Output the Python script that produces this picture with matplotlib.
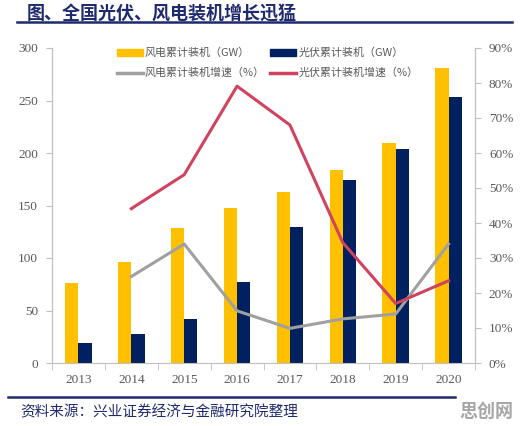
import matplotlib
matplotlib.use("Agg")
import matplotlib.pyplot as plt
import numpy as np
from matplotlib.lines import Line2D
from matplotlib.patches import Patch

plt.rcParams['font.family'] = ['Noto Sans CJK SC', 'DejaVu Sans']

years = ['2013', '2014', '2015', '2016', '2017', '2018', '2019', '2020']
wind_cap = [76, 96, 129, 148, 163, 184, 210, 281]
solar_cap = [19.4, 28, 42, 77, 130, 174, 204, 253]
wind_growth = [None, 24.7, 34.0, 14.9, 9.9, 12.6, 14.0, 34.0]
solar_growth = [None, 44.1, 53.8, 79.1, 68.0, 34.4, 17.0, 23.5]

C_WIND = '#FFC000'
C_SOLAR = '#002060'
C_WG = '#A0A0A0'
C_SG = '#D0435E'
C_AX = '#BFBFBF'
C_TXT = '#595959'
C_NAVY = '#1F2A6E'

fig = plt.figure(figsize=(5.2, 4.26), dpi=100)
W, H = 520, 426
ax = fig.add_axes([52 / W, 1 - 363 / H, (475 - 52) / W, (363 - 48) / H])
ax2 = ax.twinx()

x = np.arange(len(years))
bw = 0.25
ax.bar(x - bw / 2, wind_cap, bw, color=C_WIND, zorder=2)
ax.bar(x + bw / 2, solar_cap, bw, color=C_SOLAR, zorder=2)

wg = np.array([np.nan if v is None else v for v in wind_growth], dtype=float)
sg = np.array([np.nan if v is None else v for v in solar_growth], dtype=float)
ax2.plot(x, wg, color=C_WG, lw=2.2, zorder=3)
ax2.plot(x, sg, color=C_SG, lw=2.2, zorder=3)

ax.set_xlim(-0.5, len(years) - 0.5)
ax.set_ylim(0, 300)
ax2.set_ylim(0, 90)
ax.set_yticks(range(0, 301, 50))
ax2.set_yticks(range(0, 91, 10))
ax2.set_yticklabels([f'{v}%' for v in range(0, 91, 10)])
ax.set_xticks(x)
ax.set_xticklabels(years)
ax.set_xticks(np.arange(-0.5, len(years), 1), minor=True)
ax.tick_params(axis='x', which='major', length=0, pad=8)
ax.tick_params(axis='x', which='minor', length=5, color=C_AX, direction='out')

for a in (ax, ax2):
    a.spines['top'].set_visible(False)
    for s in ('left', 'right', 'bottom'):
        a.spines[s].set_color(C_AX)
ax2.spines['bottom'].set_visible(False)
ax.tick_params(axis='y', length=4, color=C_AX, labelcolor=C_TXT, pad=6)
ax2.tick_params(axis='y', length=4, color=C_AX, labelcolor=C_TXT, pad=6)
ax.tick_params(axis='x', labelcolor=C_TXT)
for lab in ax.get_xticklabels() + ax.get_yticklabels() + ax2.get_yticklabels():
    lab.set_fontfamily('Liberation Serif')
    lab.set_fontsize(9.5)

# column-first ordering: col1 = wind bar, wind growth; col2 = solar bar, solar growth
handles = [Patch(color=C_WIND), Line2D([], [], color=C_WG, lw=2.5),
           Patch(color=C_SOLAR), Line2D([], [], color=C_SG, lw=2.5)]
labels = ['风电累计装机（GW）', '风电累计装机增速（%）', '光伏累计装机（GW）', '光伏累计装机增速（%）']
leg = ax.legend(handles, labels, ncol=2, loc='upper left', bbox_to_anchor=((107 - 52) / 423, 1.032),
                frameon=False, fontsize=7.9, handlelength=2.35, handleheight=0.55,
                columnspacing=0.5, handletextpad=0.2, labelspacing=0.85)
for t in leg.get_texts():
    t.set_color(C_TXT)
leg.set_zorder(5)

fig.text(27 / W, 1 - 14 / H, '图、全国光伏、风电装机增长迅猛', fontsize=13, fontweight='bold',
         color=C_NAVY, va='center', ha='left')
fig.add_artist(Line2D([17 / W, 512 / W], [1 - 22 / H, 1 - 22 / H], color=C_NAVY, lw=1.8))
fig.add_artist(Line2D([8 / W, 455 / W], [1 - 397 / H, 1 - 397 / H], color=C_NAVY, lw=1.8))
fig.text(20 / W, 1 - 412 / H, '资料来源：兴业证券经济与金融研究院整理', fontsize=10.5,
         color=C_NAVY, va='center', ha='left')
fig.text(486 / W, 1 - 411 / H, '思创网', fontsize=13, fontweight='bold', color='#A6A6A6',
         va='center', ha='center')

fig.savefig('out.png', dpi=100)
